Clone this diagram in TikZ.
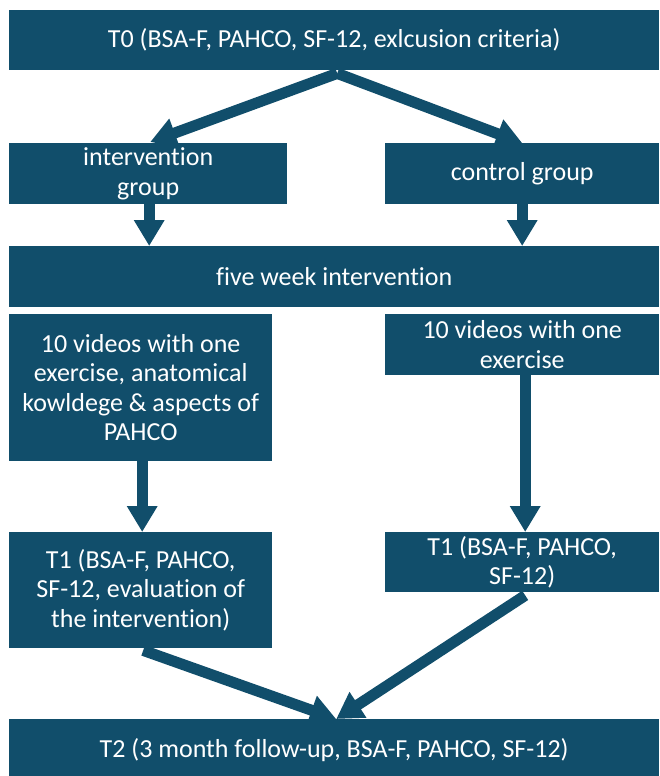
\documentclass[tikz,border=0pt]{standalone}
\usepackage{fontspec}
\setmainfont[Ligatures={NoCommon,NoContextual,NoRare},Contextuals={NoAlternate}]{Carlito}
\usetikzlibrary{arrows.meta}
\definecolor{myblue}{RGB}{17,78,107}
\begin{document}
\begin{tikzpicture}[x=1pt,y=-1pt,
  box/.style={fill=myblue, text=white, font=\fontsize{26}{29.5}\selectfont, align=center, inner sep=0pt, anchor=north west},
  arr/.style={draw=myblue, line width=11pt, -{Triangle[width=29pt,length=26pt]}}]
\useasboundingbox (0,0) rectangle (659,776);
\node[box, minimum width=650pt, minimum height=60pt] (top) at (9,10) {T0 (BSA-F, PAHCO, SF-12, exlcusion criteria)};
\node[box, minimum width=278pt, minimum height=61pt] (interv) at (9,143) {intervention\\group};
\node[box, minimum width=274pt, minimum height=61pt] (control) at (385,143) {control group};
\node[box, minimum width=650pt, minimum height=61pt] (five) at (9,246) {five week intervention};
\node[box, minimum width=263pt, minimum height=147pt] (videoL) at (9,314) {10 videos with one\\exercise, anatomical\\kowldege \& aspects of\\PAHCO};
\node[box, minimum width=274pt, minimum height=61pt] (videoR) at (385,314) {10 videos with one\\exercise};
\node[box, minimum width=263pt, minimum height=116pt] (t1L) at (9,532) {T1 (BSA-F, PAHCO,\\SF-12, evaluation of\\the intervention)};
\node[box, minimum width=274pt, minimum height=60pt] (t1R) at (385,532) {T1 (BSA-F, PAHCO,\\SF-12)};
\node[box, minimum width=650pt, minimum height=62pt] (t2) at (9,719) {T2 (3 month follow-up, BSA-F, PAHCO, SF-12)};
\coordinate (split) at ([shift={(3,3)}]top.south);
\draw[arr] (split) -- ([xshift=2pt,yshift=1pt]interv.north);
\draw[arr] (split) -- (control.north);
\draw[arr] ([xshift=1pt]interv.south) -- ([xshift=1pt]interv.south |- five.north);
\draw[arr] (control.south) -- (control.south |- five.north);
\draw[arr] ([xshift=1.5pt]videoL.south) -- ([xshift=1.5pt]videoL.south |- t1L.north);
\draw[arr] ([xshift=3pt]videoR.south) -- ([xshift=3pt]videoR.south |- t1R.north);
\draw[arr] ([shift={(2.5,2)}]t1L.south) -- ([xshift=2pt]t2.north);
\draw[arr] ([shift={(3,3)}]t1R.south) -- ([xshift=2pt]t2.north);
\end{tikzpicture}
\end{document}
